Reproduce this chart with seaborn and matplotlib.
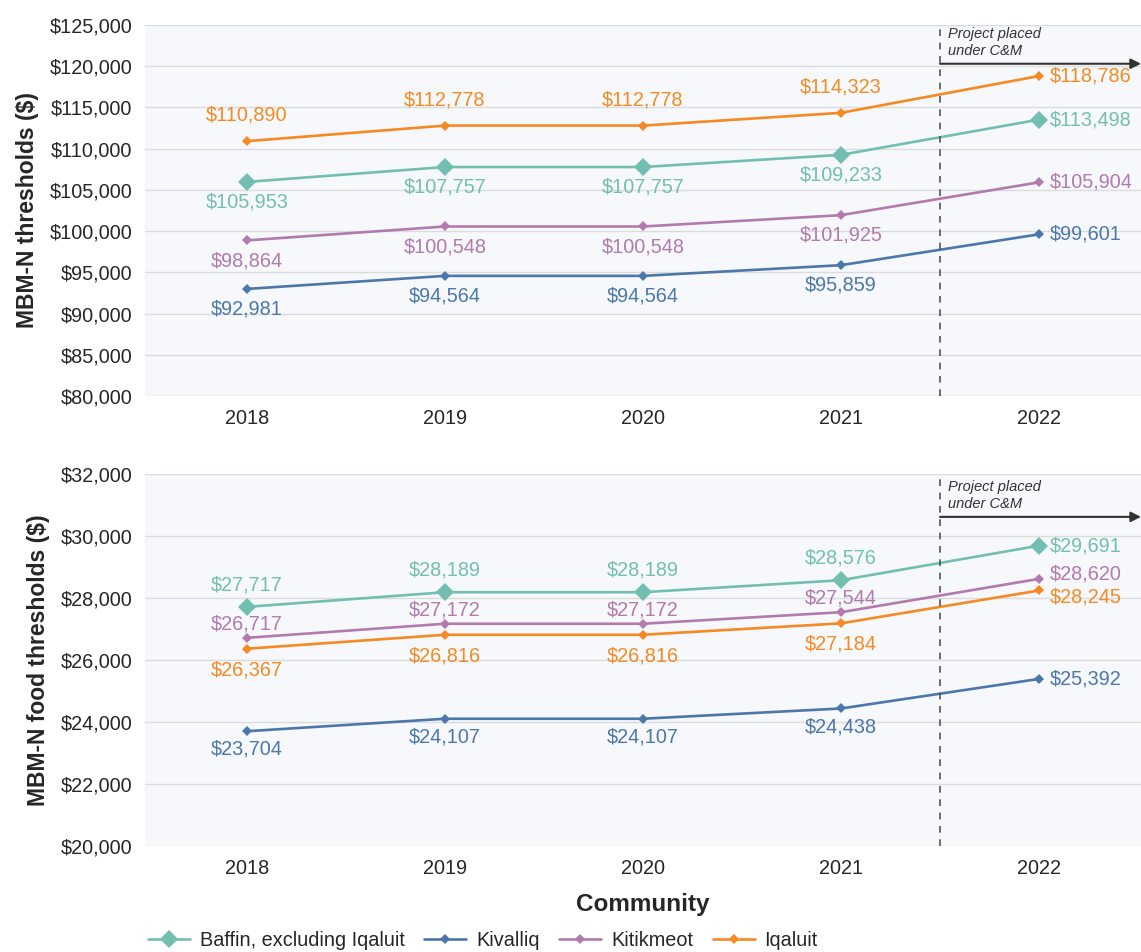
import seaborn as sns
import matplotlib.pyplot as plt
import pandas as pd
from matplotlib.ticker import FuncFormatter

years = [2018, 2019, 2020, 2021, 2022]
communities = ["Baffin, excluding Iqaluit", "Kivalliq", "Kitikmeot", "Iqaluit"]

# MBM-N thresholds
total_baffin = [105953, 107757, 107757, 109233, 113498]
total_kivalliq = [92981, 94564, 94564, 95859, 99601]
total_kitikmeot = [98864, 100548, 100548, 101925, 105904]
total_iqaluit = [110890, 112778, 112778, 114323, 118786]

# MBM-N food thresholds
food_baffin = [27717, 28189, 28189, 28576, 29691]
food_kivalliq = [23704, 24107, 24107, 24438, 25392]
food_kitikmeot = [26717, 27172, 27172, 27544, 28620]
food_iqaluit = [26367, 26816, 26816, 27184, 28245]

colors = {"Baffin, excluding Iqaluit": "#72bfb2", "Kivalliq": "#4b77aa",
          "Kitikmeot": "#b27aae", "Iqaluit": "#f58a22"}
msize = {"Baffin, excluding Iqaluit": 9.5, "Kivalliq": 5.5,
         "Kitikmeot": 5.5, "Iqaluit": 5.5}

# vertical label offset (points) for 2018-2021; 2022 labels sit to the right
top_off = {"Baffin, excluding Iqaluit": -14.5, "Kivalliq": -14.5,
           "Kitikmeot": -14.5, "Iqaluit": 18.5}
food_off = {"Baffin, excluding Iqaluit": 16, "Kivalliq": -13,
            "Kitikmeot": 10, "Iqaluit": -15}
top_end = {c: 0 for c in communities}
food_end = {"Baffin, excluding Iqaluit": 0, "Kivalliq": 0,
            "Kitikmeot": 3.5, "Iqaluit": -4.5}


def long_df(series):
    rows = []
    for name, vals in zip(communities, series):
        for y, v in zip(years, vals):
            rows.append({"year": y, "community": name, "value": v})
    return pd.DataFrame(rows)


df_total = long_df([total_baffin, total_kivalliq, total_kitikmeot, total_iqaluit])
df_food = long_df([food_baffin, food_kivalliq, food_kitikmeot, food_iqaluit])

sns.set_theme(style="white", rc={"axes.facecolor": "#f6f8fb"})
plt.rcParams["font.family"] = ["Liberation Sans", "DejaVu Sans"]

fig = plt.figure(figsize=(11.41, 9.52), dpi=100)
ax1 = fig.add_axes([0.127, 0.584, 0.873, 0.39])
ax2 = fig.add_axes([0.127, 0.1113, 0.873, 0.3907])


def draw(ax, df, ylim, step, ylabel, off, end_off, arrow_y):
    sns.lineplot(data=df, x="year", y="value", hue="community", style="community",
                 palette=colors, markers={c: "D" for c in communities}, dashes=False,
                 linewidth=1.9, ax=ax, legend=False)
    for line, name in zip(ax.lines, communities):
        line.set_markersize(msize[name])
        line.set_markeredgewidth(0)
    for name, g in df.groupby("community", sort=False):
        for y, v in zip(g["year"], g["value"]):
            lab = f"${v:,.0f}"
            if y == years[-1]:
                ax.annotate(lab, (y, v), xytext=(7.5, end_off[name]), textcoords="offset points",
                            ha="left", va="center", color=colors[name], fontsize=14.3)
            else:
                ax.annotate(lab, (y, v), xytext=(0, off[name]), textcoords="offset points",
                            ha="center", va="center", color=colors[name], fontsize=14.3)
    ax.set_xlim(2017.485, 2022.515)
    ax.set_ylim(*ylim)
    ax.set_yticks(range(ylim[0], ylim[1] + 1, step))
    ax.set_xticks(years)
    ax.yaxis.set_major_formatter(FuncFormatter(lambda v, p: f"${v:,.0f}"))
    ax.tick_params(axis="both", labelsize=14.3, length=0, pad=9)
    ax.tick_params(axis="x", pad=9)
    ax.grid(axis="y", color="#dcdcdc", linewidth=1)
    ax.set_axisbelow(True)
    for s in ax.spines.values():
        s.set_visible(False)
    ax.set_ylabel(ylabel, fontsize=16.5, fontweight="bold", labelpad=8)
    ax.set_xlabel("")
    ax.axvline(2021.5, color="#555555", linestyle=(0, (4, 4)), linewidth=1.2)
    ax.annotate("", xy=(1.0, arrow_y), xytext=(2021.5, arrow_y),
                xycoords=("axes fraction", "axes fraction"),
                textcoords=("data", "axes fraction"),
                arrowprops=dict(arrowstyle="-|>", color="#333333", lw=1.5,
                                mutation_scale=15, shrinkA=0, shrinkB=0),
                annotation_clip=False)
    ax.text(2021.54, arrow_y + 0.015, "Project placed\nunder C&M", transform=ax.get_xaxis_transform(),
            ha="left", va="bottom", fontsize=10.5, style="italic", color="#333333",
            linespacing=1.3)


draw(ax1, df_total, (80000, 125000), 5000, "MBM-N thresholds ($)", top_off, top_end, 0.895)
draw(ax2, df_food, (20000, 32000), 2000, "MBM-N food thresholds ($)", food_off, food_end, 0.885)

ax2.set_xlabel("Community", fontsize=17.5, fontweight="bold")
ax2.xaxis.set_label_coords(0.5, -0.126)

fig.legend(handles=ax1.lines[:4], labels=communities, loc="center left",
           bbox_to_anchor=(0.114, 0.0126), ncol=4, frameon=False, fontsize=14.3,
           handlelength=2.1, columnspacing=1.0, handletextpad=0.5)

fig.savefig("out.png", dpi=100, facecolor="white")
